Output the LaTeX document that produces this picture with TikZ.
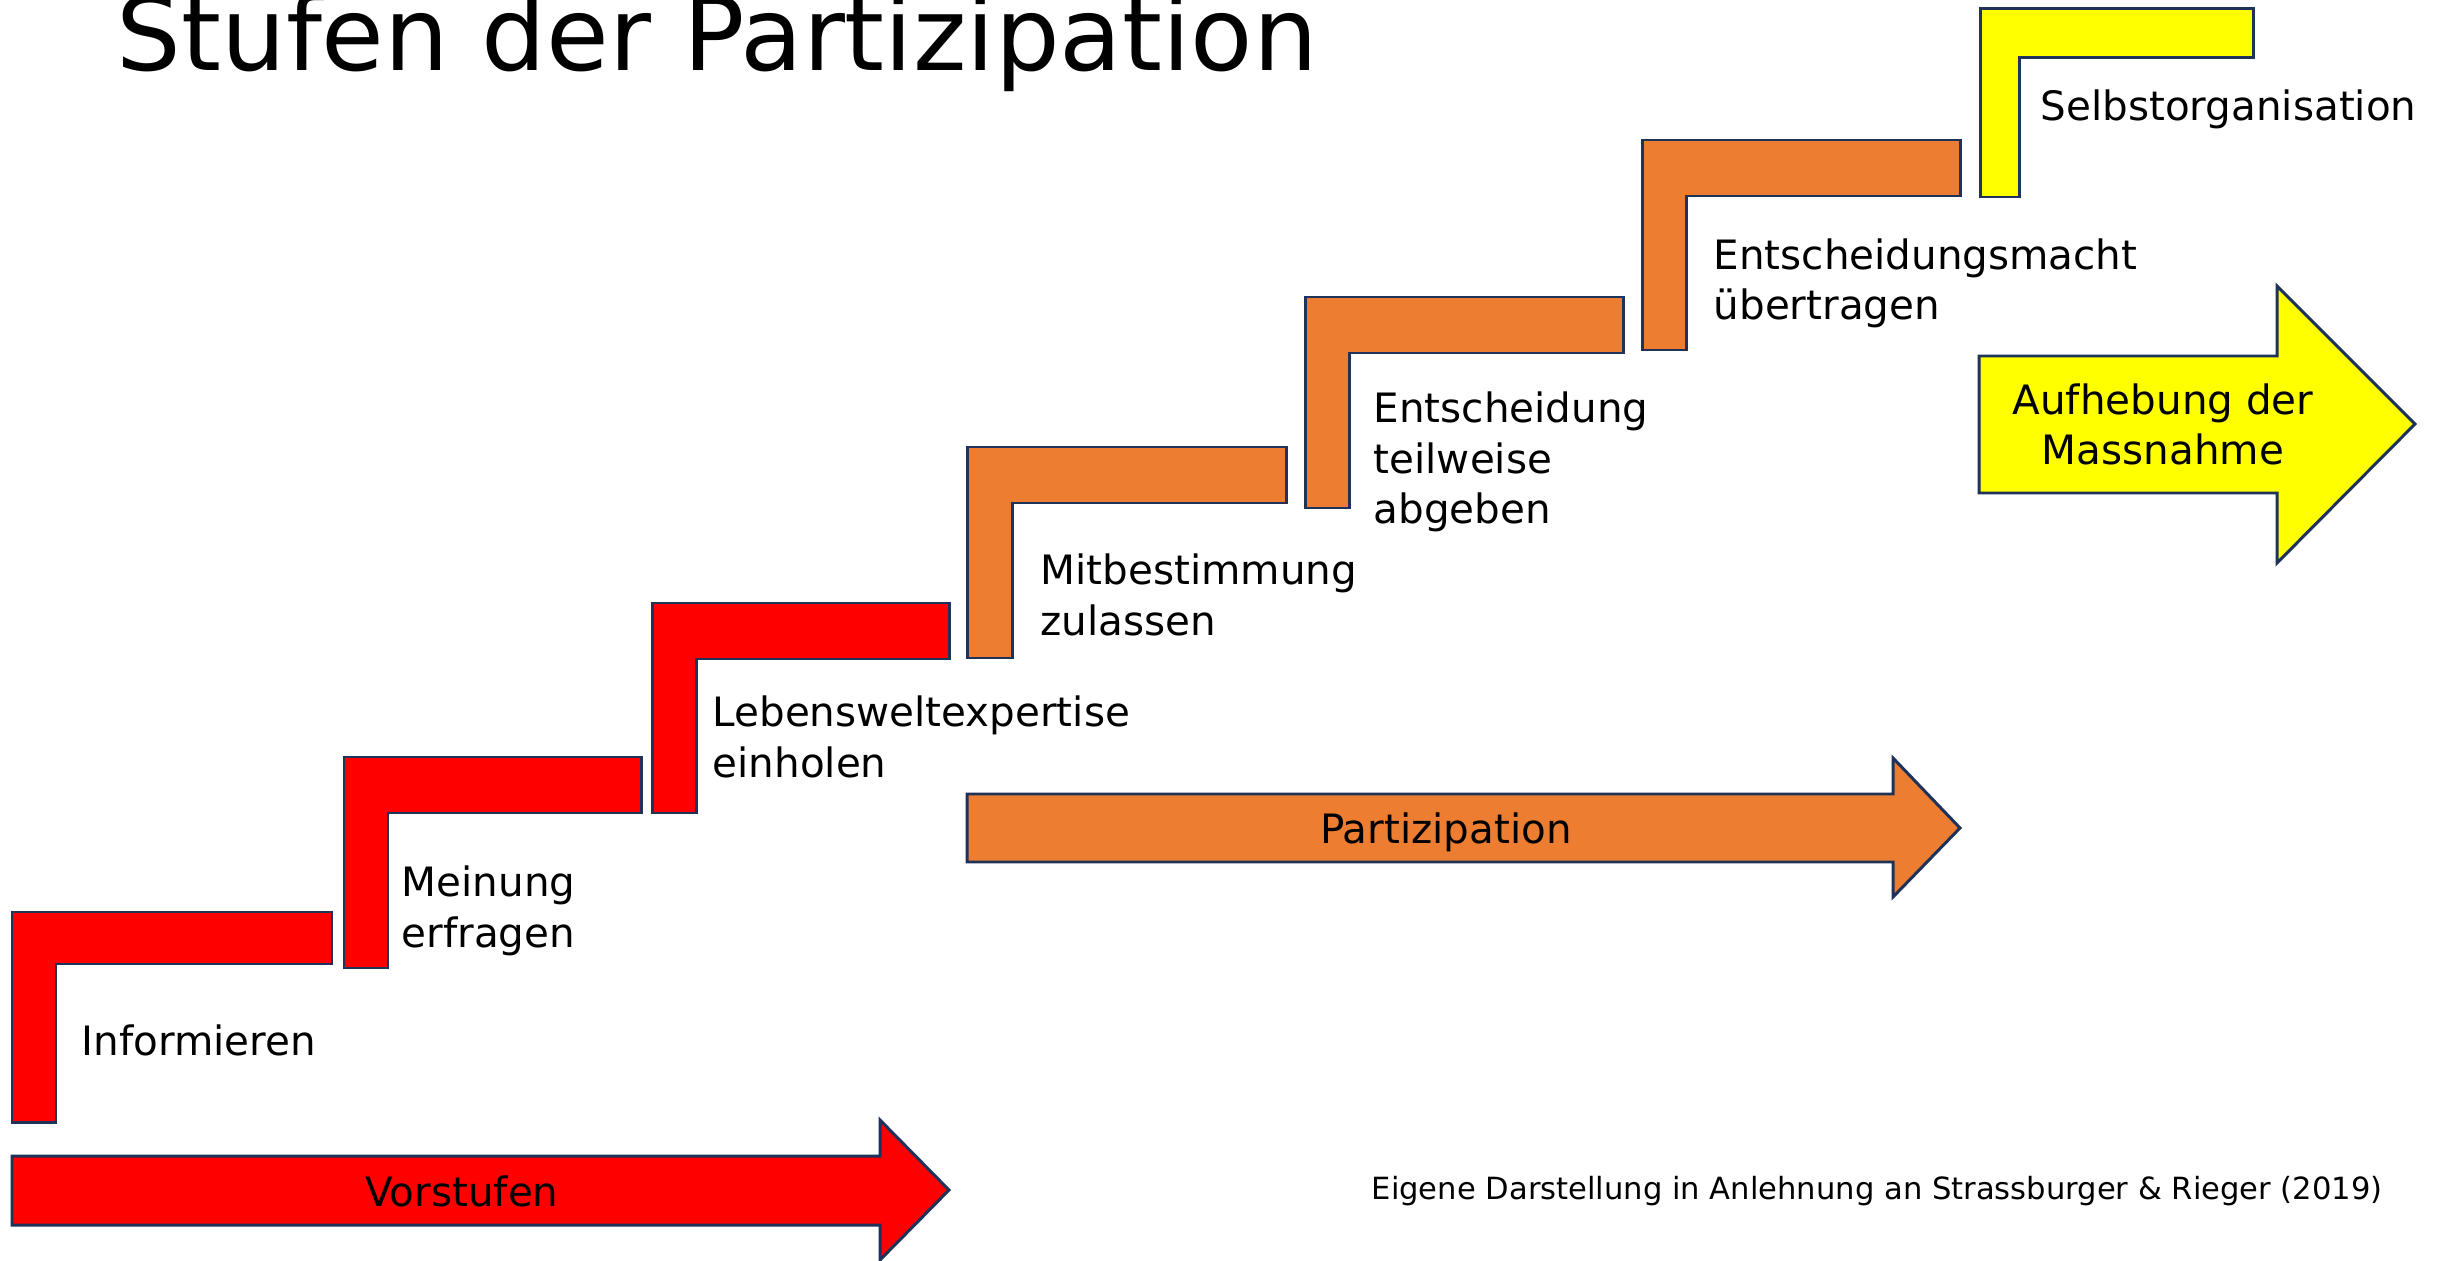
\documentclass[tikz,border=0pt]{standalone}
\definecolor{stufenrot}{HTML}{FF0000}
\definecolor{stufenorange}{HTML}{ED7D31}
\definecolor{stufengelb}{HTML}{FFFF00}
\definecolor{stufenrand}{HTML}{1F3259}
\usepackage{fontspec}
\setmainfont{DejaVu Sans}
\usepackage{tikz}
\usetikzlibrary{positioning}

\begin{document}
\begin{tikzpicture}[
        x=0.01cm, y=-0.01cm,
        stufe/.style={draw=stufenrand, line width=0.85pt, line join=miter},
        stufentext/.style={font=\fontsize{11.5}{14.4}\selectfont, align=left,
                      anchor=base west, inner sep=0pt},
        pfeiltext/.style={font=\fontsize{11.5}{14.4}\selectfont, align=center,
                      anchor=base, inner sep=0pt}
      ]
        \useasboundingbox (0,0) rectangle (2442,1261);

        \node[anchor=base west, inner sep=0pt, font=\fontsize{29}{35}\selectfont]
          (titel) at (116,71) {Stufen der Partizipation};

        % Stufen
        \draw[stufe, fill=stufenrot] (12,912) -- (332,912) -- (332,964) -- (56,964) -- (56,1122) -- (12,1122) -- cycle;
        \draw[stufe, fill=stufenrot] (344,757) -- (641,757) -- (641,813) -- (388,813) -- (388,968) -- (344,968) -- cycle;
        \draw[stufe, fill=stufenrot] (652,603) -- (949,603) -- (949,659) -- (696,659) -- (696,813) -- (652,813) -- cycle;
        \draw[stufe, fill=stufenorange] (967,447) -- (1286,447) -- (1286,503) -- (1012,503) -- (1012,658) -- (967,658) -- cycle;
        \draw[stufe, fill=stufenorange] (1305,297) -- (1623,297) -- (1623,353) -- (1349,353) -- (1349,508) -- (1305,508) -- cycle;
        \draw[stufe, fill=stufenorange] (1642,140) -- (1960,140) -- (1960,196) -- (1686,196) -- (1686,350) -- (1642,350) -- cycle;
        \draw[stufe, fill=stufengelb] (1980,9) -- (2253,9) -- (2253,58) -- (2019,58) -- (2019,197) -- (1980,197) -- cycle;

        % base = Grundlinie der letzten Zeile
        \node[stufentext] (inf) at (81,1055) {Informieren};
        \node[stufentext] (mei) at (401,947) {Meinung\\erfragen};
        \node[stufentext] (leb) at (712,777) {Lebensweltexpertise\\einholen};
        \node[stufentext] (mit) at (1040,635) {Mitbestimmung\\zulassen};
        \node[stufentext] (ent) at (1373,524) {Entscheidung\\teilweise\\abgeben};
        \node[stufentext] (mac) at (1713,320) {Entscheidungsmacht\\übertragen};
        \node[stufentext] (sel) at (2040,121) {Selbstorganisation};

        % Pfeile
        \draw[stufe, fill=stufenrot] (12,1156) -- (880,1156) -- (880,1120) -- (949,1190) -- (880,1260) -- (880,1225) -- (12,1225) -- cycle;
        \draw[stufe, fill=stufenorange] (967,794) -- (1893,794) -- (1893,758) -- (1960,828) -- (1893,897) -- (1893,862) -- (967,862) -- cycle;
        \draw[stufe, fill=stufengelb] (1979,356) -- (2277,356) -- (2277,286) -- (2415,424) -- (2277,563) -- (2277,493) -- (1979,493) -- cycle;

        \node[pfeiltext] (vor) at (462,1206) {Vorstufen};
        \node[pfeiltext] (par) at (1446,843) {Partizipation};
        \node[pfeiltext] (auf) at (2163,465) {Aufhebung der\\Massnahme};

        \node[anchor=base west, inner sep=0pt, font=\fontsize{8.7}{10}\selectfont]
          (quelle) at (1371,1199) {Eigene Darstellung in Anlehnung an Strassburger \& Rieger (2019)};
      \end{tikzpicture}
\end{document}
